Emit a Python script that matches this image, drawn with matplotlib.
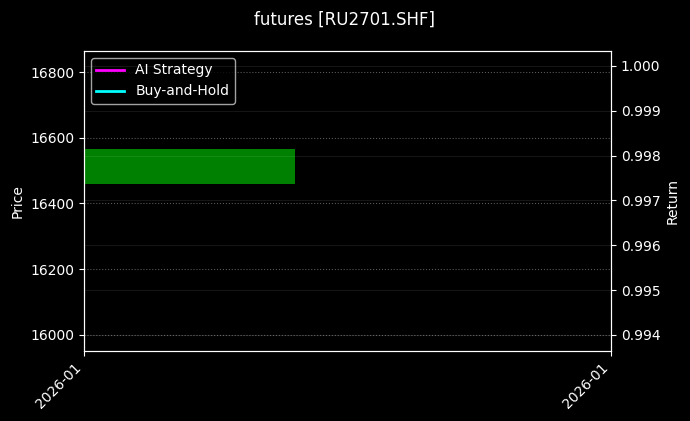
import matplotlib.pyplot as plt
import matplotlib.dates as mdates
import numpy as np
import pandas as pd

# data
dates = pd.to_datetime(['2026-01-05'])
open_px = [16458]
close_px = [16565]
high_px = [16565]
low_px = [16458]
ai_return = [1.0]
bh_return = [1.0]

plt.style.use('dark_background')
fig, ax1 = plt.subplots(figsize=(6.9, 4.21), dpi=100)
fig.subplots_adjust(left=0.1217, right=0.8855, top=0.8789, bottom=0.1663)

x = mdates.date2num(dates)
colors = ['green' if c >= o else 'red' for o, c in zip(open_px, close_px)]
heights = np.array(close_px) - np.array(open_px)
ax1.vlines(x, low_px, high_px, color=colors, linewidth=1)
ax1.bar(x, heights, bottom=open_px, width=0.8, color=colors)
ax1.set_ylabel('Price')
ax1.set_ylim(15951, 16864)
ax1.set_yticks([16000, 16200, 16400, 16600, 16800])
ax1.grid(True, linestyle=':', alpha=0.35, linewidth=0.8)

ax2 = ax1.twinx()
ax2.plot(x, ai_return, color='magenta', linewidth=2, label='AI Strategy')
ax2.plot(x, bh_return, color='cyan', linewidth=2, label='Buy-and-Hold')
ax2.set_ylabel('Return')
ax2.set_ylim(0.99364, 1.000335)
ax2.set_yticks([0.994, 0.995, 0.996, 0.997, 0.998, 0.999, 1.000])
ax2.yaxis.set_major_formatter(plt.FormatStrFormatter('%.3f'))
ax2.grid(True, linestyle='-', alpha=0.1, linewidth=0.6)

ax1.set_xlim(x[0], x[0] + 1)
ax1.set_xticks([x[0], x[0] + 1])
ax1.xaxis.set_major_formatter(mdates.DateFormatter('%Y-%m'))
plt.setp(ax1.get_xticklabels(), rotation=45, ha='right')

lines = ax2.get_lines()
ax1.legend(lines, [l.get_label() for l in lines], loc='upper left')

fig.suptitle('futures [RU2701.SHF]', fontsize=12, y=0.975)
fig.savefig('out.png', dpi=100)
